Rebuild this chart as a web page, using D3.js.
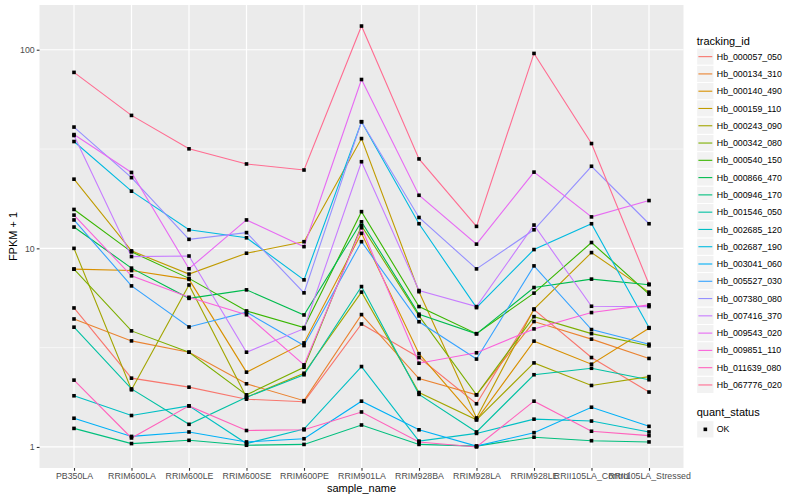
<!DOCTYPE html>
<html>
<head>
<meta charset="utf-8">
<script src="https://cdnjs.cloudflare.com/ajax/libs/d3/7.8.5/d3.min.js"></script>
<style>
body { margin: 0; background: #fff; }
svg text { font-family: "Liberation Sans", Arial, Helvetica, sans-serif; }
</style>
</head>
<body>
<div id="chart"></div>
<script>
// samples on the x axis
var samples = ["PB350LA", "RRIM600LA", "RRIM600LE", "RRIM600SE", "RRIM600PE", "RRIM901LA",
  "RRIM928BA", "RRIM928LA", "RRIM928LE", "RRII105LA_Control", "RRII105LA_Stressed"];

var trackingIds = ["Hb_000057_050", "Hb_000134_310", "Hb_000140_490", "Hb_000159_110", "Hb_000243_090",
  "Hb_000342_080", "Hb_000540_150", "Hb_000866_470", "Hb_000946_170", "Hb_001546_050",
  "Hb_002685_120", "Hb_002687_190", "Hb_003041_060", "Hb_005527_030", "Hb_007380_080",
  "Hb_007416_370", "Hb_009543_020", "Hb_009851_110", "Hb_011639_080", "Hb_067776_020"];

// FPKM + 1 per tracking id, one value per sample
var hb000057 = [5.01, 2.22, 2.0, 1.74, 1.69, 4.16, 2.82, 1.65, 4.92, 2.82, 1.89];
var hb000134 = [4.41, 3.42, 3.0, 2.08, 1.71, 4.64, 2.21, 1.83, 4.28, 3.49, 2.79];
var hb000140 = [7.86, 7.73, 6.98, 2.38, 3.34, 11.9, 2.95, 1.37, 3.41, 2.61, 3.96];
var hb000159 = [22.3, 9.71, 7.42, 9.45, 10.8, 35.7, 6.05, 1.40, 4.95, 9.52, 6.02];
var hb000243 = [10.0, 1.94, 6.54, 1.78, 2.35, 6.02, 1.88, 1.37, 2.65, 2.04, 2.26];
var hb000342 = [7.86, 3.84, 3.0, 1.83, 2.52, 13.0, 4.57, 1.83, 4.53, 3.72, 3.23];
var hb000540 = [15.7, 9.6, 7.06, 4.84, 3.99, 15.3, 5.09, 3.72, 5.95, 10.7, 5.88];
var hb000866 = [12.8, 7.95, 5.6, 6.18, 4.62, 13.6, 4.66, 3.71, 6.35, 7.0, 6.56];
var hb000946 = [1.24, 1.04, 1.08, 1.02, 1.03, 1.29, 1.03, 1.01, 1.12, 1.075, 1.06];
var hb001546 = [4.01, 1.96, 1.30, 1.78, 2.31, 6.42, 1.84, 1.19, 2.31, 2.49, 2.18];
var hb002685 = [1.81, 1.44, 1.61, 1.04, 1.23, 2.54, 1.07, 1.17, 1.38, 1.35, 1.19];
var hb002687 = [34.5, 19.4, 12.4, 11.3, 6.94, 43.4, 13.3, 5.03, 9.86, 13.3, 3.99];
var hb003041 = [1.395, 1.13, 1.19, 1.06, 1.10, 1.70, 1.22, 1.01, 1.18, 1.585, 1.27];
var hb005527 = [13.9, 6.47, 4.02, 4.77, 3.24, 10.8, 4.27, 2.77, 8.16, 3.90, 3.29];
var hb007380 = [40.8, 22.7, 11.1, 12.0, 5.97, 43.4, 14.3, 7.88, 12.4, 25.9, 13.3];
var hb007416 = [37.0, 9.09, 9.15, 3.0, 3.94, 27.3, 6.13, 5.09, 13.1, 5.11, 5.09];
var hb009543 = [37.4, 24.1, 7.89, 13.9, 10.2, 70.8, 18.5, 10.5, 24.2, 14.4, 17.4];
var hb009851 = [14.7, 7.27, 5.67, 4.63, 2.59, 12.7, 2.64, 2.98, 3.93, 4.75, 5.19];
var hb011639 = [2.17, 1.11, 1.61, 1.21, 1.22, 1.50, 1.06, 1.0, 1.70, 1.20, 1.14];
var hb067776 = [76.9, 46.7, 31.7, 26.6, 24.8, 131.6, 28.2, 12.9, 95.8, 33.7, 6.6];

var seriesValues = [hb000057, hb000134, hb000140, hb000159, hb000243, hb000342, hb000540,
  hb000866, hb000946, hb001546, hb002685, hb002687, hb003041, hb005527, hb007380,
  hb007416, hb009543, hb009851, hb011639, hb067776];

var yTicks = [1, 10, 100];
var quantStatus = ["OK"];

// ggplot hue palette, 20 levels
var palette = ["#F8766D", "#EA8331", "#D89000", "#C09B00", "#A3A500", "#7CAE00", "#39B600",
  "#00BB4E", "#00BF7D", "#00C1A3", "#00BFC4", "#00BAE0", "#00B0F6", "#35A2FF", "#9590FF",
  "#C77CFF", "#E76BF3", "#FA62DB", "#FF62BC", "#FF6C91"];

var width = 800;
var height = 500;
var panelLeft = 39.5, panelRight = 683.5, panelTop = 5, panelBottom = 468;

var svg = d3.select("#chart").append("svg")
  .attr("width", width)
  .attr("height", height);

var series = trackingIds.map(function(id, i) {
  return {
    id: id,
    values: seriesValues[i].map(function(v, j) { return { sample: samples[j], value: v }; })
  };
});

// log10 range with ggplot's 5% expansion
var allLogs = [];
seriesValues.forEach(function(s) { s.forEach(function(v) { allLogs.push(Math.log10(v)); }); });
var logExt = d3.extent(allLogs);
var pad = (logExt[1] - logExt[0]) * 0.05;

var xScale = d3.scalePoint()
  .domain(samples)
  .range([panelLeft, panelRight])
  .padding(0.6);

var yScale = d3.scaleLog()
  .domain([Math.pow(10, logExt[0] - pad), Math.pow(10, logExt[1] + pad)])
  .range([panelBottom, panelTop]);

var color = d3.scaleOrdinal().domain(trackingIds).range(palette);

// panel
svg.append("rect")
  .attr("x", panelLeft).attr("y", panelTop)
  .attr("width", panelRight - panelLeft).attr("height", panelBottom - panelTop)
  .attr("fill", "#EBEBEB");

var grid = svg.append("g").attr("class", "grid");
// minor grid halfway between decades
[Math.sqrt(10), Math.sqrt(1000)].forEach(function(v) {
  grid.append("line")
    .attr("x1", panelLeft).attr("x2", panelRight)
    .attr("y1", yScale(v)).attr("y2", yScale(v))
    .attr("stroke", "#fff").attr("stroke-width", 0.6);
});
yTicks.forEach(function(v) {
  grid.append("line")
    .attr("x1", panelLeft).attr("x2", panelRight)
    .attr("y1", yScale(v)).attr("y2", yScale(v))
    .attr("stroke", "#fff").attr("stroke-width", 1.2);
});
samples.forEach(function(s) {
  grid.append("line")
    .attr("x1", xScale(s)).attr("x2", xScale(s))
    .attr("y1", panelTop).attr("y2", panelBottom)
    .attr("stroke", "#fff").attr("stroke-width", 1.2);
});

// lines
var line = d3.line()
  .x(function(d) { return xScale(d.sample); })
  .y(function(d) { return yScale(d.value); });

svg.append("g").selectAll("path")
  .data(series)
  .enter()
  .append("path")
  .attr("d", function(d) { return line(d.values); })
  .attr("fill", "none")
  .attr("stroke", function(d) { return color(d.id); })
  .attr("stroke-width", 1.1);

// points
var pts = [];
series.forEach(function(s) { s.values.forEach(function(v) { pts.push(v); }); });
svg.append("g").selectAll("rect")
  .data(pts)
  .enter()
  .append("rect")
  .attr("x", function(d) { return xScale(d.sample) - 1.8; })
  .attr("y", function(d) { return yScale(d.value) - 1.8; })
  .attr("width", 3.6)
  .attr("height", 3.6)
  .attr("fill", "#000");

// axes
var yAxis = d3.axisLeft(yScale)
  .tickValues(yTicks)
  .tickFormat(d3.format("d"))
  .tickSize(2.75)
  .tickPadding(2);
var yG = svg.append("g")
  .attr("transform", "translate(" + panelLeft + ",0)")
  .call(yAxis);

var xAxis = d3.axisBottom(xScale).tickSize(2.75).tickPadding(2.5);
var xG = svg.append("g")
  .attr("transform", "translate(0," + panelBottom + ")")
  .call(xAxis);

[yG, xG].forEach(function(g) {
  g.select(".domain").remove();
  g.selectAll(".tick line").attr("stroke", "#333333").attr("stroke-width", 1.1);
  g.selectAll(".tick text")
    .attr("fill", "#4D4D4D")
    .style("font-size", "8.8px")
    .style("font-family", "'Liberation Sans', Arial, sans-serif");
});

svg.append("text")
  .attr("x", (panelLeft + panelRight) / 2)
  .attr("y", 492)
  .attr("text-anchor", "middle")
  .style("font-size", "11px")
  .text("sample_name");

svg.append("text")
  .attr("transform", "translate(16.5," + ((panelTop + panelBottom) / 2) + ")rotate(-90)")
  .attr("text-anchor", "middle")
  .style("font-size", "11px")
  .text("FPKM + 1");

// legend: tracking_id
var keyW = 17.28;
var legX = 696.7;
var legTop = 48;

svg.append("text")
  .attr("x", legX).attr("y", 44.5)
  .style("font-size", "11px")
  .text("tracking_id");

var keys = svg.append("g").selectAll("g")
  .data(trackingIds)
  .enter()
  .append("g")
  .attr("transform", function(d, i) { return "translate(" + legX + "," + (legTop + i * keyW) + ")"; });

keys.append("rect")
  .attr("width", keyW).attr("height", keyW)
  .attr("fill", "#F2F2F2").attr("stroke", "#fff").attr("stroke-width", 1);
keys.append("line")
  .attr("x1", 1.7).attr("x2", keyW - 1.7)
  .attr("y1", keyW / 2).attr("y2", keyW / 2)
  .attr("stroke", function(d) { return color(d); })
  .attr("stroke-width", 1.1);
keys.append("text")
  .attr("x", keyW + 2.8)
  .attr("y", keyW / 2 + 3.1)
  .style("font-size", "8.8px")
  .text(function(d) { return d; });

// legend: quant_status
var qTop = 420.7;
svg.append("text")
  .attr("x", legX).attr("y", 416)
  .style("font-size", "11px")
  .text("quant_status");

var qKeys = svg.append("g").selectAll("g")
  .data(quantStatus)
  .enter()
  .append("g")
  .attr("transform", function(d, i) { return "translate(" + legX + "," + (qTop + i * keyW) + ")"; });
qKeys.append("rect")
  .attr("width", keyW).attr("height", keyW)
  .attr("fill", "#F2F2F2").attr("stroke", "#fff").attr("stroke-width", 1);
qKeys.append("rect")
  .attr("x", keyW / 2 - 1.8).attr("y", keyW / 2 - 1.8)
  .attr("width", 3.6).attr("height", 3.6)
  .attr("fill", "#000");
qKeys.append("text")
  .attr("x", keyW + 2.8)
  .attr("y", keyW / 2 + 3.1)
  .style("font-size", "8.8px")
  .text(function(d) { return d; });
</script>
</body>
</html>
